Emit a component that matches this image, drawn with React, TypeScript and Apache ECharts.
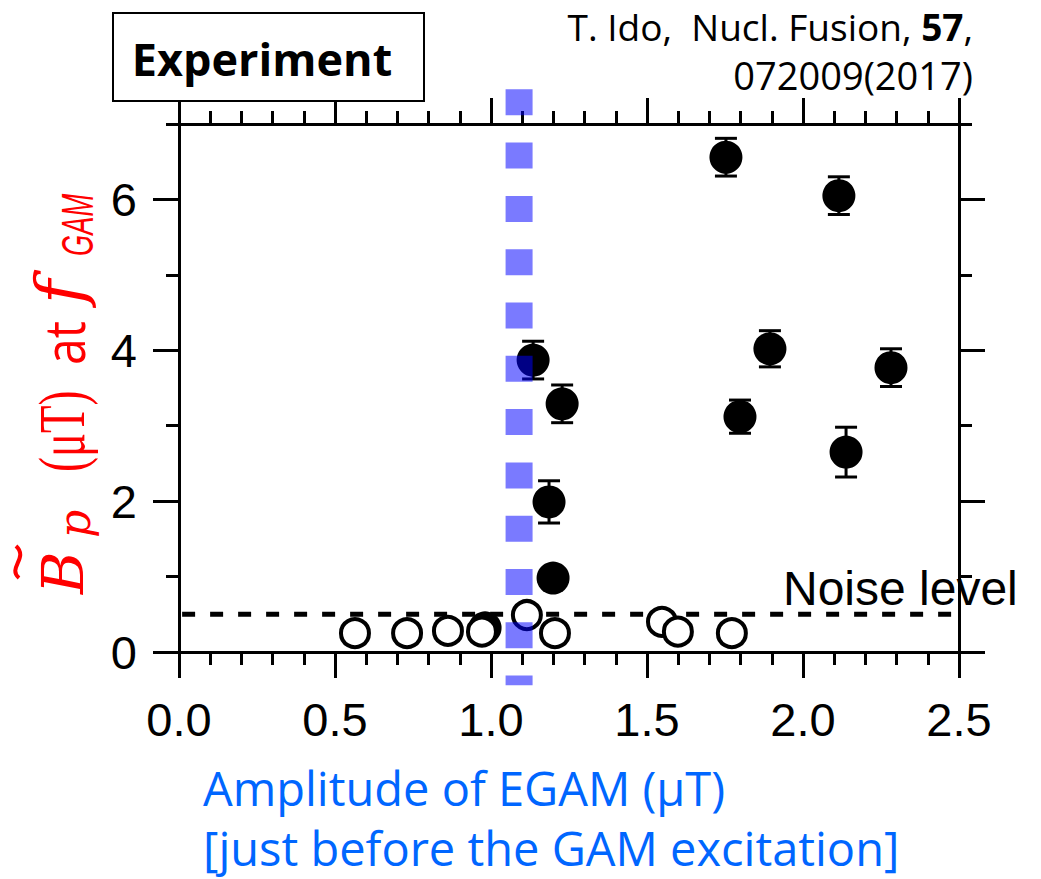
import React, { useEffect, useRef } from "react";
import * as echarts from "echarts";

// Axis ranges and tick layout
const xRange = [0, 2.5];
const xTickStep = 0.5;
const yRange = [0, 7];
const yLabelTicks = [0, 2, 4, 6];

// GAM excited shots (filled): EGAM amplitude, B_p amplitude, half error bar
const excitedX = [1.135, 1.228, 1.186, 1.199, 1.753, 2.115, 1.894, 1.798, 2.282, 2.138, 0.981];
const excitedY = [3.87, 3.29, 1.99, 0.98, 6.56, 6.05, 4.02, 3.12, 3.77, 2.65, 0.32];
const excitedErr = [0.25, 0.25, 0.28, 0.1, 0.25, 0.25, 0.24, 0.22, 0.25, 0.33, 0.1];

// Shots without GAM (open)
const quietX = [0.564, 0.731, 0.862, 0.971, 1.115, 1.205, 1.548, 1.599, 1.772];
const quietY = [0.25, 0.25, 0.28, 0.27, 0.49, 0.25, 0.4, 0.27, 0.25];

// Noise floor and excitation threshold
const noiseLevel = 0.5;
const noiseSpan = [0.01, 2.49];
const thresholdX = 1.09;
const thresholdSpan = [7.46, -0.44];

const RED = "#ff0000";
const BLUE = "#0066ff";

function labelPiece(text: string, x: number, baseline: number, size: number, family: string, extra: any = {}) {
  const { fontStyle = "normal", fontWeight = "normal", ...rest } = extra;
  return {
    type: "text",
    x,
    y: baseline - 0.35 * size,
    ...rest,
    style: {
      text,
      fill: RED,
      font: `${fontStyle} ${fontWeight} ${size}px ${family}`,
      align: "left",
      verticalAlign: "middle",
    },
  };
}

export default function App() {
  const ref = useRef<HTMLDivElement>(null);

  useEffect(() => {
    if (!ref.current) return;
    const chart = echarts.init(ref.current, null, { renderer: "svg" });

    const axisLine = { show: true, onZero: false, lineStyle: { color: "#000", width: 3 } };
    const tickStyle = { color: "#000", width: 3 };

    const xAxisBase = {
      type: "value",
      min: xRange[0],
      max: xRange[1],
      interval: xTickStep,
      axisLine,
      axisTick: { show: true, inside: false, length: 26, lineStyle: tickStyle },
      minorTick: { show: true, splitNumber: 5, length: 13, lineStyle: tickStyle },
      splitLine: { show: false },
      minorSplitLine: { show: false },
    };

    const yMinor = (position: string) => ({
      type: "value",
      position,
      min: yRange[0],
      max: yRange[1],
      interval: 1,
      axisLine,
      axisTick: { show: true, inside: false, length: 13, lineStyle: tickStyle },
      splitLine: { show: false },
      axisLabel:
        position === "left"
          ? {
              show: true,
              margin: 42,
              fontSize: 47,
              color: "#000",
              fontFamily: "Liberation Sans",
              formatter: (v: number) => (yLabelTicks.includes(v) ? String(v) : ""),
            }
          : { show: false },
    });

    const yMajor = (position: string) => ({
      type: "value",
      position,
      min: yRange[0],
      max: yRange[1],
      interval: 1,
      axisLine: { show: false, onZero: false },
      axisTick: {
        show: true,
        inside: false,
        length: 26,
        customValues: yLabelTicks,
        lineStyle: tickStyle,
      },
      axisLabel: { show: false },
      splitLine: { show: false },
    });

    chart.setOption({
      animation: false,
      backgroundColor: "#fff",
      grid: {
        left: 179,
        right: 82,
        top: 124,
        bottom: 227,
        containLabel: false,
        outerBoundsMode: "none",
      },
      xAxis: [
        {
          ...xAxisBase,
          position: "bottom",
          axisLabel: {
            show: true,
            margin: 44,
            fontSize: 47,
            color: "#000",
            fontFamily: "Liberation Sans",
            formatter: (v: number) => v.toFixed(1),
          },
        },
        { ...xAxisBase, position: "top", axisLabel: { show: false } },
      ],
      yAxis: [yMinor("left"), yMajor("left"), yMinor("right"), yMajor("right")],
      series: [
        {
          type: "line",
          name: "noise",
          data: [
            [noiseSpan[0], noiseLevel],
            [noiseSpan[1], noiseLevel],
          ],
          xAxisIndex: 0,
          yAxisIndex: 0,
          symbol: "none",
          z: 2,
          lineStyle: { color: "#000", width: 5, type: [13, 15], cap: "butt" },
        },
        {
          type: "custom",
          name: "errors",
          xAxisIndex: 0,
          yAxisIndex: 0,
          z: 3,
          data: excitedX.map((x, i) => [x, excitedY[i], excitedErr[i]]),
          encode: { x: 0, y: 1 },
          renderItem: (_params: any, api: any) => {
            const x = api.value(0);
            const y = api.value(1);
            const e = api.value(2);
            const top = api.coord([x, y + e]);
            const bot = api.coord([x, y - e]);
            const hw = 11;
            const st = { stroke: "#000", lineWidth: 3 };
            return {
              type: "group",
              children: [
                { type: "line", shape: { x1: top[0], y1: top[1], x2: bot[0], y2: bot[1] }, style: st },
                { type: "line", shape: { x1: top[0] - hw, y1: top[1], x2: top[0] + hw, y2: top[1] }, style: st },
                { type: "line", shape: { x1: bot[0] - hw, y1: bot[1], x2: bot[0] + hw, y2: bot[1] }, style: st },
              ],
            };
          },
        },
        {
          type: "scatter",
          name: "excited",
          xAxisIndex: 0,
          yAxisIndex: 0,
          z: 4,
          symbol: "circle",
          symbolSize: 33,
          itemStyle: { color: "#000", opacity: 1 },
          data: excitedX.map((x, i) => [x, excitedY[i]]),
        },
        {
          type: "scatter",
          name: "quiet",
          xAxisIndex: 0,
          yAxisIndex: 0,
          z: 5,
          symbol: "circle",
          symbolSize: 28,
          itemStyle: { color: "#fff", borderColor: "#000", borderWidth: 4, opacity: 1 },
          data: quietX.map((x, i) => [x, quietY[i]]),
        },
        {
          type: "line",
          name: "threshold",
          xAxisIndex: 0,
          yAxisIndex: 0,
          clip: false,
          z: 10,
          symbol: "none",
          data: thresholdSpan.map((y) => [thresholdX, y]),
          lineStyle: { color: "rgba(0,0,255,0.52)", width: 27, type: [26, 27.3], cap: "butt" },
        },
      ],
      graphic: [
        {
          type: "rect",
          shape: { x: 113, y: 13, width: 311, height: 88 },
          style: { fill: "#fff", stroke: "#000", lineWidth: 2 },
          z: 20,
        },
        {
          type: "text",
          x: 262,
          y: 58,
          z: 21,
          style: {
            text: "Experiment",
            fill: "#000",
            font: "bold 45px 'Open Sans'",
            align: "center",
            verticalAlign: "middle",
          },
        },
        {
          type: "text",
          x: 973,
          y: 26,
          z: 21,
          style: {
            text: "{n|T. Ido,  Nucl. Fusion, }{b|57}{n|,}",
            align: "right",
            verticalAlign: "middle",
            rich: {
              n: { font: "normal 37px 'Open Sans'", fill: "#000" },
              b: { font: "bold 37px 'Open Sans'", fill: "#000" },
            },
          },
        },
        {
          type: "text",
          x: 973,
          y: 75,
          z: 21,
          style: {
            text: "072009(2017)",
            fill: "#000",
            font: "normal 38px 'Open Sans'",
            align: "right",
            verticalAlign: "middle",
          },
        },
        {
          type: "text",
          x: 783,
          y: 588,
          z: 21,
          style: {
            text: "Noise level",
            fill: "#000",
            font: "normal 48px 'Liberation Sans'",
            align: "left",
            verticalAlign: "middle",
          },
        },
        {
          type: "text",
          x: 203,
          y: 788,
          z: 21,
          style: {
            text: "Amplitude of EGAM (\u03bcT)",
            fill: BLUE,
            font: "normal 47px 'Open Sans'",
            align: "left",
            verticalAlign: "middle",
          },
        },
        {
          type: "text",
          x: 203,
          y: 848,
          z: 21,
          style: {
            text: "[just before the GAM excitation]",
            fill: BLUE,
            font: "normal 47px 'Open Sans'",
            align: "left",
            verticalAlign: "middle",
          },
        },
        {
          type: "group",
          x: 83,
          y: 594,
          rotation: Math.PI / 2,
          z: 21,
          children: [
            labelPiece("B", 0, 0, 58, "'DejaVu Serif'", { fontStyle: "italic" }),
            {
              type: "bezierCurve",
              shape: { x1: 16, y1: -64, cpx1: 26, cpy1: -76, cpx2: 36, cpy2: -54, x2: 48, y2: -67 },
              style: { stroke: RED, lineWidth: 4, fill: "none" },
            },
            labelPiece("p", 56, 7, 44, "'DejaVu Serif'", { fontStyle: "italic" }),
            labelPiece("(\u03bcT)", 122, 2, 66, "'Liberation Serif'", { scaleX: 0.68 }),
            labelPiece("at", 229, 0, 56, "'Open Sans'", { scaleX: 0.86 }),
            labelPiece("f", 290, 0, 66, "'DejaVu Serif'", { fontStyle: "italic" }),
            labelPiece("GAM", 338, 10, 44, "'Liberation Sans'", { fontStyle: "italic", scaleX: 0.62 }),
          ],
        },
      ],
    });

    return () => chart.dispose();
  }, []);

  return (
    <div
      ref={ref}
      style={{ position: "fixed", left: 0, top: 0, width: 1041, height: 879, background: "#fff" }}
    />
  );
}
